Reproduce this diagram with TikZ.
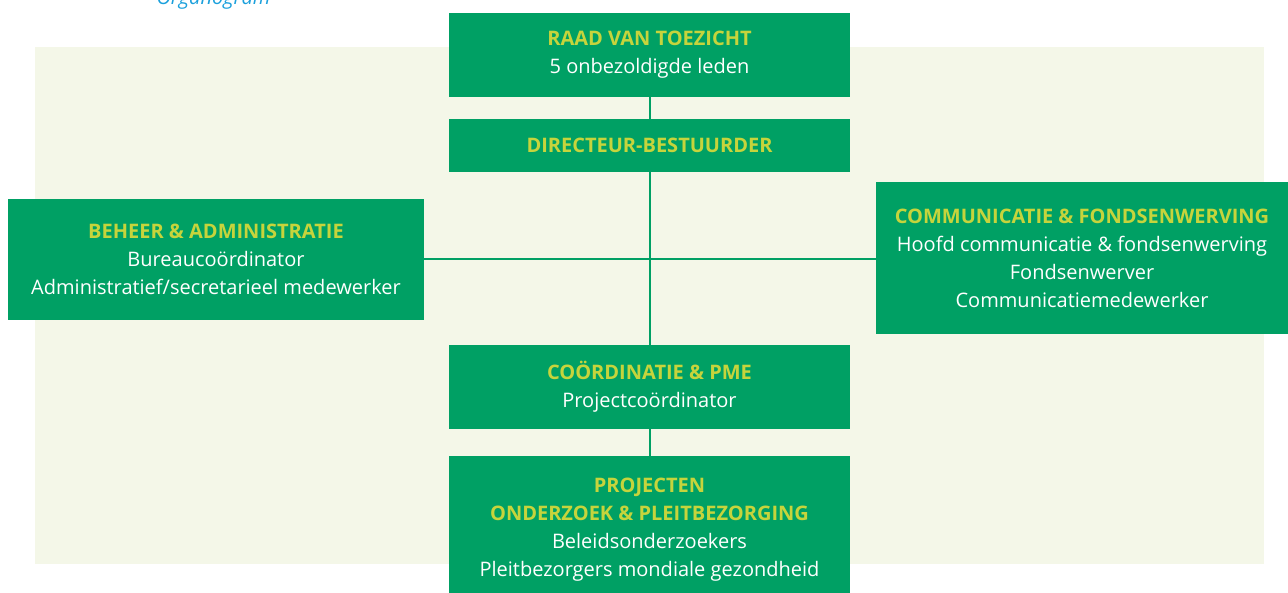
\documentclass[tikz,border=0pt]{standalone}
\usepackage{fontspec}
\setmainfont{Open Sans}
\usepackage{tikz}

\definecolor{orggreen}{HTML}{00A064}
\definecolor{orglime}{HTML}{C6D43C}
\definecolor{orgcream}{HTML}{F4F7E8}
\definecolor{orgblue}{HTML}{1BA0DC}
\newcommand{\kop}[1]{{\bfseries\color{orglime}#1}}

\begin{document}
\begin{tikzpicture}[x=1pt, y=-1pt,
	unit/.style={fill=orggreen, text=white, align=center, inner sep=0pt, font=\fontsize{20}{28}\selectfont},
	link/.style={draw=orggreen, line width=2pt}]
	\useasboundingbox (0,0) rectangle (1288,592);
	\clip (0,0) rectangle (1288,592);
	\fill[orgcream] (35,47) rectangle (1264,564);

	\node[anchor=base west, text=orgblue, font=\fontsize{20}{24}\selectfont\itshape] (titel) at (153,4) {Organogram};

	\node[unit, minimum width=401pt, minimum height=84pt] (raad) at (649.5,55) {\kop{RAAD VAN TOEZICHT}\\5 onbezoldigde leden};
	\node[unit, minimum width=401pt, minimum height=53pt] (dir) at (649.5,145.5) {\kop{DIRECTEUR-BESTUURDER}};
	\node[unit, minimum width=416pt, minimum height=121pt] (beheer) at (216,259) {\kop{BEHEER \& ADMINISTRATIE}\\Bureaucoördinator\\Administratief/secretarieel medewerker};
	\node[unit, minimum width=412pt, minimum height=152pt] (comm) at (1082,258) {\kop{COMMUNICATIE \& FONDSENWERVING}\\Hoofd communicatie \& fondsenwerving\\Fondsenwerver\\Communicatiemedewerker};
	\node[unit, minimum width=401pt, minimum height=84pt] (coord) at (649.5,387) {\kop{COÖRDINATIE \& PME}\\Projectcoördinator};
	\node[unit, minimum width=401pt, minimum height=148pt] (proj) at (649.5,530) {\kop{PROJECTEN}\\\kop{ONDERZOEK \& PLEITBEZORGING}\\Beleidsonderzoekers\\Pleitbezorgers mondiale gezondheid};

	\draw[link] (raad.south) to (dir.north);
	\draw[link] (dir.south) to (coord.north);
	\draw[link] (coord.south) to (proj.north);
	\draw[link] (beheer.east) to (beheer.east -| comm.west);
\end{tikzpicture}
\end{document}
